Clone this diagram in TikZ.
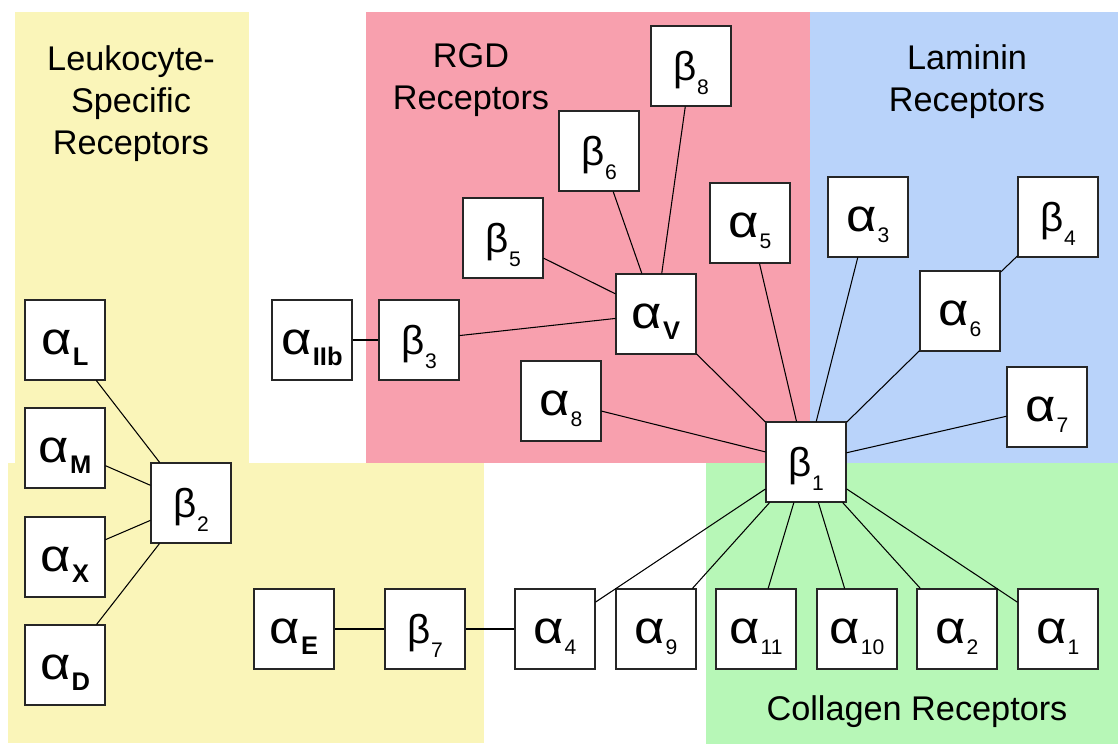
\documentclass[tikz,border=0pt]{standalone}
\usepackage{fontspec}
\usepackage{graphicx}
\setmainfont{Liberation Sans}
\definecolor{yel}{RGB}{250,245,185}
\definecolor{pnk}{RGB}{248,160,174}
\definecolor{blu}{RGB}{185,211,250}
\definecolor{grn}{RGB}{183,247,183}
% alpha label with digit or bold letter subscript
\newcommand\alphaglyph{{\fontsize{26}{26}\selectfont\scalebox{1.15}[1]{α}}}
\newcommand\alab[1]{\alphaglyph\kern0.4pt{\fontsize{12}{12}\selectfont\raisebox{-6.5pt}{#1}}}
\newcommand\alabB[1]{\alphaglyph\kern0.6pt{\fontsize{14.5}{14.5}\selectfont\raisebox{-6.5pt}{\textbf{#1}}}}
\newcommand\blab[1]{{\fontsize{23}{23}\selectfont β}\kern0.4pt{\fontsize{12}{12}\selectfont\raisebox{-7.5pt}{#1}}}
\begin{document}
\begin{tikzpicture}[x=0.02cm,y=-0.02cm,
  rbox/.style={draw=black!85, line width=0.8pt, fill=white, minimum width=45.35pt, minimum height=45.35pt, inner sep=0pt, text height=21pt, text depth=5pt},
  bbox/.style={rbox, text height=22pt, text depth=5pt},
  conn/.style={line width=0.6pt, black},
  ttl/.style={font=\fontsize{19.5}{24}\selectfont, align=center, inner sep=0pt, anchor=north}]
\useasboundingbox (0,0) rectangle (1118,744);
% background regions
\fill[yel] (15,12) rectangle (249,463);
\fill[yel] (8,463) rectangle (484,743);
\fill[pnk] (366,12) rectangle (810,463);
\fill[blu] (810,12) rectangle (1118,463);
\fill[grn] (706,463) rectangle (1118,744);
% titles
\node[ttl] (tleu) at (131,45) {Leukocyte-\\Specific\\Receptors};
\node[ttl] (trgd) at (471,43) {RGD\\Receptors};
\node[ttl] (tlam) at (967,44) {Laminin\\Receptors};
\node[ttl, anchor=base] (tcol) at (917,720) {Collagen Receptors};
% boxes
\node[rbox] (aL) at (65,340) {\alabB{L}};
\node[rbox] (aM) at (65,448) {\alabB{M}};
\node[rbox] (aX) at (65,557) {\alabB{X}};
\node[rbox] (aD) at (65,665) {\alabB{D}};
\node[bbox] (b2) at (191,503) {\blab{2}};
\node[rbox] (aIIb) at (312,340) {\alabB{IIb}};
\node[bbox] (b3) at (419,340) {\blab{3}};
\node[rbox] (aV) at (656,314) {\alabB{V}};
\node[rbox] (a8) at (561,401) {\alab{8}};
\node[bbox] (b1) at (806,462) {\blab{1}};
\node[rbox] (a7) at (1047,407) {\alab{7}};
\node[rbox] (a11) at (756,629) {\alab{11}};
\node[rbox] (a10) at (857,629) {\alab{10}};
\node[rbox] (a2) at (957,629) {\alab{2}};
\node[rbox] (a1) at (1058,629) {\alab{1}};
\node[rbox] (a9) at (656,629) {\alab{9}};
\node[rbox] (a4) at (555,629) {\alab{4}};
\node[bbox] (b7) at (425,629) {\blab{7}};
\node[rbox] (aE) at (294,629) {\alabB{E}};
\node[bbox] (b8) at (691,66) {\blab{8}};
\node[bbox] (b6) at (599,151) {\blab{6}};
\node[rbox] (a5) at (750,223) {\alab{5}};
\node[bbox] (b5) at (503,238) {\blab{5}};
\node[rbox] (a3) at (868,217) {\alab{3}};
\node[bbox] (b4) at (1058,217) {\blab{4}};
\node[rbox] (a6) at (960,311) {\alab{6}};
% connectors
\draw[conn] (aL) -- (b2);
\draw[conn] (aM) -- (b2);
\draw[conn] (aX) -- (b2);
\draw[conn] (aD) -- (b2);
\draw[conn] (aIIb) -- (b3);
\draw[conn] (b3) -- (aV);
\draw[conn] (b5) -- (aV);
\draw[conn] (b6) -- (aV);
\draw[conn] (b8) -- (aV);
\draw[conn] (aV) -- (b1);
\draw[conn] (a8) -- (b1);
\draw[conn] (a5) -- (b1);
\draw[conn] (a3) -- (b1);
\draw[conn] (a6) -- (b1);
\draw[conn] (b4) -- (a6);
\draw[conn] (a7) -- (b1);
\draw[conn] (b1) -- (a4);
\draw[conn] (b1) -- (a9);
\draw[conn] (b1) -- (a11);
\draw[conn] (b1) -- (a10);
\draw[conn] (b1) -- (a2);
\draw[conn] (b1) -- (a1);
\draw[conn] (aE) -- (b7);
\draw[conn] (b7) -- (a4);
\end{tikzpicture}
\end{document}
